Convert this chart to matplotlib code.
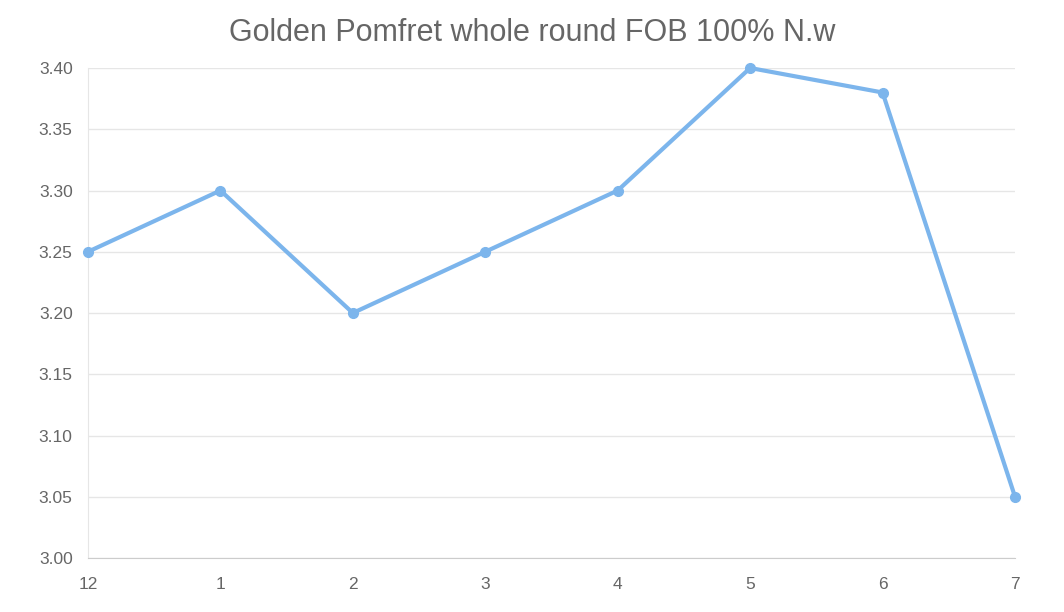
import matplotlib.pyplot as plt

# --- chart data ---
months = ['12', '1', '2', '3', '4', '5', '6', '7']
prices = [3.25, 3.30, 3.20, 3.25, 3.30, 3.40, 3.38, 3.05]
y_ticks = [3.00, 3.05, 3.10, 3.15, 3.20, 3.25, 3.30, 3.35, 3.40]

plt.rcParams['font.family'] = ['Liberation Sans', 'DejaVu Sans']

fig = plt.figure(figsize=(10.64, 6.12), dpi=100)
ax = fig.add_axes([88 / 1064, 1 - 558 / 612, (1015 - 88) / 1064, (558 - 68) / 612])

x = list(range(len(months)))
ax.plot(x, prices, color='#7cb5ec', linewidth=3, marker='o', markersize=7,
        clip_on=False, zorder=3)

ax.set_xlim(0, len(months) - 1)
ax.set_ylim(3.00, 3.40)
ax.set_xticks(x)
ax.set_xticklabels(months)
ax.set_yticks(y_ticks)
ax.set_yticklabels([f'{v:.2f}' for v in y_ticks])

ax.grid(axis='y', color='#e6e6e6', linewidth=1)
ax.set_axisbelow(True)
for side in ['top', 'right']:
    ax.spines[side].set_visible(False)
ax.spines['left'].set_color('#e6e6e6')
ax.spines['bottom'].set_color('#cccccc')
ax.tick_params(axis='both', length=0, labelsize=12.5, colors='#666666')
ax.tick_params(axis='x', pad=14)
ax.tick_params(axis='y', pad=11)

fig.text(0.5, 1 - 33 / 612, 'Golden Pomfret whole round FOB 100% N.w',
         ha='center', va='center', fontsize=22, color='#666666')

fig.savefig('out.png', dpi=100)
